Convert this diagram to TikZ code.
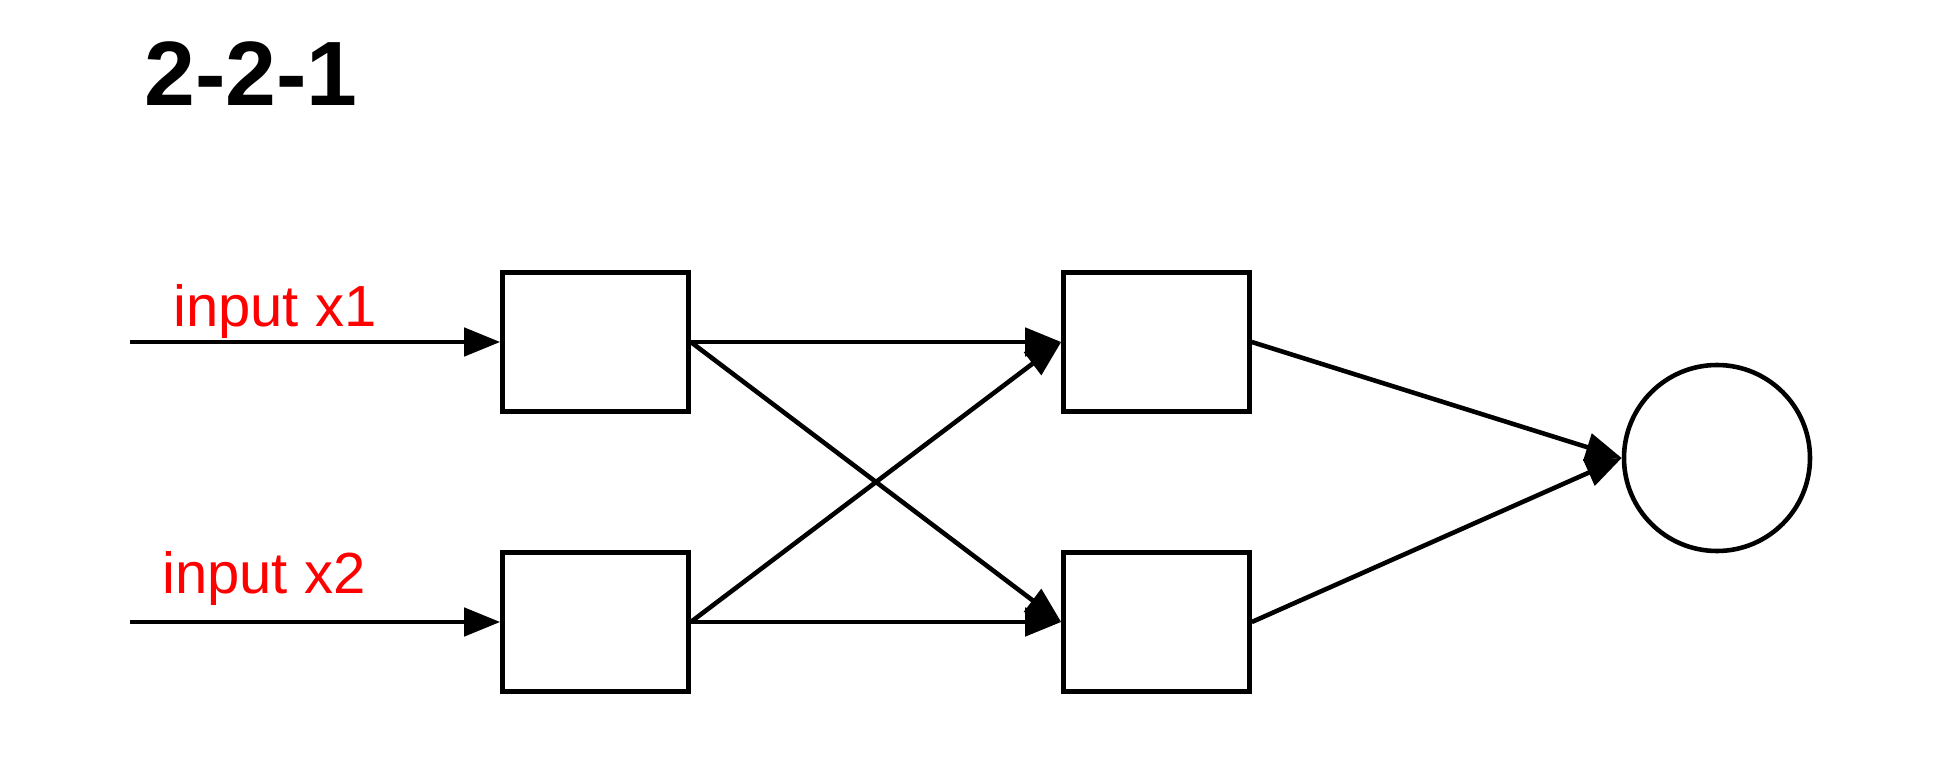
\documentclass[tikz,border=0pt]{standalone}
\usepackage{fontspec}
\setmainfont{Liberation Sans}
\usetikzlibrary{arrows.meta}

\begin{document}
\begin{tikzpicture}[line width=1.3pt,
    unit/.style={draw=black,minimum width=1.86cm,minimum height=1.39cm,inner sep=0pt},
    outunit/.style={draw=black,circle,minimum size=1.86cm,inner sep=0pt},
    inlabel/.style={text=red,font=\fontsize{16.5}{20}\selectfont,inner sep=0pt,anchor=base west},
    link/.style={-{Triangle[length=0.36cm,width=0.28cm]}}]
      \useasboundingbox (0,0) rectangle (19.54,7.73);
      \node[font=\bfseries\fontsize{26}{30}\selectfont,inner sep=0pt,anchor=base west] (title) at (1.42,6.68) {2-2-1};
      \node[unit] (h1) at (5.955,4.31) {};
      \node[unit] (h2) at (5.955,1.51) {};
      \node[unit] (g1) at (11.565,4.31) {};
      \node[unit] (g2) at (11.565,1.51) {};
      \node[outunit] (out) at (17.17,3.15) {};
      \coordinate (x1) at (1.30,4.31);
      \coordinate (x2) at (1.30,1.51);
      \node[inlabel] (lx1) at (1.71,4.47) {input x1};
      \node[inlabel] (lx2) at (1.60,1.80) {input x2};
      \draw[link] (x1) -- (h1.west);
      \draw[link] (x2) -- (h2.west);
      \draw[link] (h1.east) -- (g1.west);
      \draw[link] (h1.east) -- (g2.west);
      \draw[link] (h2.east) -- (g1.west);
      \draw[link] (h2.east) -- (g2.west);
      \draw[link] (g1.east) -- (out.west);
      \draw[link] (g2.east) -- (out.west);
     \end{tikzpicture}
\end{document}
